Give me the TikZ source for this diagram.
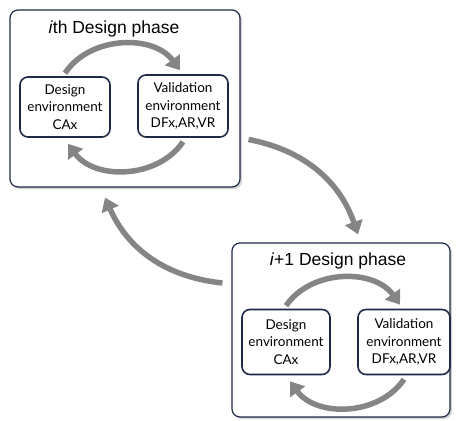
\documentclass[tikz,border=0pt]{standalone}
\usepackage{fontspec}
\setmainfont{Liberation Sans}
\newfontfamily\envfont{Lato}
\usetikzlibrary{arrows.meta,shadows}
\definecolor{navy}{HTML}{1F2A48}
\definecolor{cyclegray}{HTML}{858585}
\begin{document}
\begin{tikzpicture}[x=1pt,y=-1pt,
		phase box/.style={rectangle,draw=navy,line width=1.2pt,rounded corners=8pt,fill=white,
			drop shadow={opacity=0.35,shadow xshift=2pt,shadow yshift=-2pt}},
		env box/.style={rectangle,draw=navy,line width=1.6pt,rounded corners=8pt,fill=white,
			align=center,font=\envfont\fontsize{13.5}{17.5}\selectfont,inner sep=1pt},
		cycle arrow/.style={draw=cyclegray,line width=5.5pt,-{Triangle[length=13pt,width=18pt]}},
		title/.style={font=\fontsize{17.5}{21}\selectfont}]
		\useasboundingbox (0,0) rectangle (457,420);
		
		\node[phase box, minimum width=230, minimum height=177] (o1) at (125,98.5) {};
		\node[phase box, minimum width=218, minimum height=174] (o2) at (341,330) {};
		\node[title] (t1) at (114,29) {\textit{i}th Design phase};
		\node[title] (t2) at (338,261) {\textit{i}+1 Design phase};
		
		\node[env box, minimum width=90, minimum height=60] (d1) at (65,107) {Design\\environment\\CAx};
		\node[env box, minimum width=90, minimum height=62] (v1) at (183,106) {Validation\\environment\\DFx,AR,VR};
		\node[env box, minimum width=88, minimum height=65] (d2) at (286,342) {Design\\environment\\CAx};
		\node[env box, minimum width=92, minimum height=65] (v2) at (404,342) {Validation\\environment\\DFx,AR,VR};
		
		% loops inside each phase
		\draw[cycle arrow] ([yshift=3pt]d1.north) to[bend left=55] ([yshift=4pt,xshift=-3pt]v1.north);
		\draw[cycle arrow] ([yshift=-4pt]v1.south) to[bend left=55] ([yshift=-6pt,xshift=3pt]d1.south);
		\draw[cycle arrow] ([yshift=3pt]d2.north) to[bend left=55] ([yshift=4pt,xshift=-4pt]v2.north);
		\draw[cycle arrow] ([yshift=-4pt]v2.south) to[bend left=55] ([yshift=-6pt,xshift=4pt]d2.south);
		% between phases
		\draw[cycle arrow] ([xshift=8pt,yshift=-41pt]o1.east) to[bend left=30] ([xshift=17pt,yshift=8pt]o2.north);
		\draw[cycle arrow] ([xshift=-9pt,yshift=47pt]o2.west) to[bend left=30] ([xshift=-20pt,yshift=-10pt]o1.south);
\end{tikzpicture}
\end{document}
